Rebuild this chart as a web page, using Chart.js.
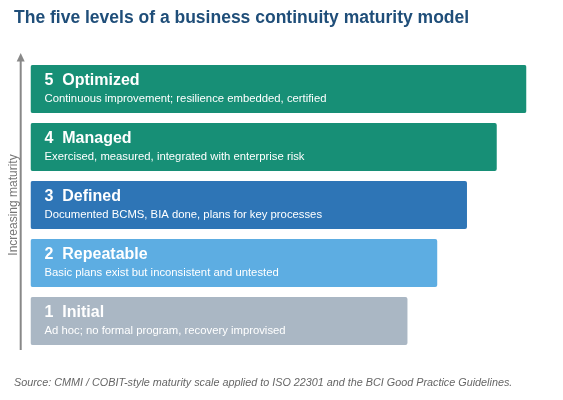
<!DOCTYPE html>
<html>
<head>
<meta charset="utf-8">
<script src="https://cdn.jsdelivr.net/npm/chart.js@4"></script>
<style>
  body { margin: 0; background: #fff; }
  #wrap { width: 563px; height: 400px; }
</style>
</head>
<body>
<div id="wrap"><canvas id="levels" width="563" height="400"></canvas></div>
<script>
let levels = ["1", "2", "3", "4", "5"];
let levelNames = ["Initial", "Repeatable", "Defined", "Managed", "Optimized"];
let levelNotes = [
    "Ad hoc; no formal program, recovery improvised",
    "Basic plans exist but inconsistent and untested",
    "Documented BCMS, BIA done, plans for key processes",
    "Exercised, measured, integrated with enterprise risk",
    "Continuous improvement; resilience embedded, certified"
];
// relative bar length, widest level = 1
let barLengths = [0.76, 0.82, 0.88, 0.94, 1.0];
let barColors = ["#aab7c4", "#5dade2", "#2e75b6", "#178f76", "#178f76"];

let titleText = "The five levels of a business continuity maturity model";
let axisText = "Increasing maturity";
let sourceText = "Source: CMMI / COBIT-style maturity scale applied to ISO 22301 and the BCI Good Practice Guidelines.";

let FONT = "'Liberation Sans', Arial, sans-serif";

let decorations = {
    id: "decorations",
    afterDatasetsDraw(chart) {
        let ctx = chart.ctx;
        let area = chart.chartArea;
        ctx.save();

        // text inside each bar
        let meta = chart.getDatasetMeta(0);
        meta.data.forEach(function (bar, i) {
            let top = bar.y - bar.height / 2;
            let left = bar.base + 14;
            ctx.fillStyle = "#ffffff";
            ctx.textAlign = "left";
            ctx.textBaseline = "middle";
            ctx.font = "bold 16px " + FONT;
            ctx.fillText(levels[i] + "  " + levelNames[i], left, top + 16);
            ctx.font = "11.3px " + FONT;
            ctx.fillText(levelNotes[i], left, top + 33.5);
        });

        // maturity arrow
        let ax = 20.7;
        ctx.strokeStyle = "#888888";
        ctx.fillStyle = "#888888";
        ctx.lineWidth = 2;
        ctx.beginPath();
        ctx.moveTo(ax, area.bottom);
        ctx.lineTo(ax, area.top - 2);
        ctx.stroke();
        ctx.beginPath();
        ctx.moveTo(ax, area.top - 7);
        ctx.lineTo(ax - 4, area.top + 1.5);
        ctx.lineTo(ax + 4, area.top + 1.5);
        ctx.closePath();
        ctx.fill();

        ctx.translate(14, (area.top + area.bottom) / 2);
        ctx.rotate(-Math.PI / 2);
        ctx.fillStyle = "#777777";
        ctx.font = "12px " + FONT;
        ctx.textAlign = "center";
        ctx.textBaseline = "middle";
        ctx.fillText(axisText, 0, 0);
        ctx.restore();

        ctx.save();
        ctx.textAlign = "left";
        ctx.textBaseline = "middle";
        ctx.fillStyle = "#1f4e79";
        ctx.font = "bold 17.5px " + FONT;
        ctx.fillText(titleText, 14, 18);
        ctx.fillStyle = "#666666";
        ctx.font = "italic 10.8px " + FONT;
        ctx.fillText(sourceText, 14, 383);
        ctx.restore();
    }
};

let chart = new Chart(document.getElementById("levels").getContext("2d"), {
    type: "bar",
    data: {
        labels: levels,
        datasets: [{
            data: barLengths,
            backgroundColor: barColors,
            borderWidth: 0,
            borderRadius: 2,
            borderSkipped: false,
            categoryPercentage: 1,
            barPercentage: 48 / 58
        }]
    },
    options: {
        indexAxis: "y",
        responsive: false,
        animation: false,
        devicePixelRatio: 1,
        layout: {
            padding: { left: 30.5, right: 36.5, top: 60, bottom: 50 }
        },
        scales: {
            x: { display: false, min: 0, max: 1 },
            y: { display: false, reverse: true }
        },
        plugins: {
            legend: { display: false },
            tooltip: { enabled: false },
            title: { display: false }
        }
    },
    plugins: [decorations]
});
</script>
</body>
</html>
